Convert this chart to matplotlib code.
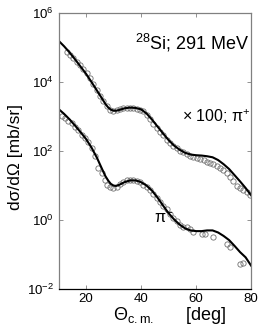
import numpy as np
import matplotlib
matplotlib.use("Agg")
import matplotlib.pyplot as plt

plt.rcParams['font.family'] = ['Liberation Sans', 'DejaVu Sans']
plt.rcParams['mathtext.fontset'] = 'custom'
plt.rcParams['mathtext.rm'] = 'Liberation Sans'
plt.rcParams['mathtext.it'] = 'Liberation Sans:italic'
plt.rcParams['mathtext.bf'] = 'Liberation Sans:bold'

# theory curves (angle in deg, log10 of cross section)
th_curve = [10, 12, 14, 16, 18, 20, 22, 24, 26, 27, 28, 29, 30, 31, 32, 34, 36, 38,
            40, 42, 44, 46, 48, 50, 52, 54, 56, 58, 60, 62, 64, 66, 68, 70, 72, 74,
            76, 78, 80]
log_pip_curve = [5.20, 5.04, 4.86, 4.66, 4.45, 4.24, 4.00, 3.75, 3.50, 3.37, 3.27, 3.20,
                 3.17, 3.17, 3.19, 3.24, 3.26, 3.25, 3.21, 3.09, 2.91, 2.71, 2.51, 2.32,
                 2.16, 2.04, 1.95, 1.90, 1.88, 1.87, 1.85, 1.82, 1.74, 1.62, 1.48, 1.30,
                 1.12, 0.93, 0.72]
log_pim_curve = [3.22, 3.08, 2.92, 2.74, 2.55, 2.35, 2.10, 1.80, 1.45, 1.28, 1.15, 1.05,
                 1.00, 0.99, 1.02, 1.10, 1.15, 1.15, 1.10, 1.00, 0.85, 0.65, 0.42, 0.20,
                 0.02, -0.13, -0.24, -0.30, -0.32, -0.32, -0.30, -0.30, -0.36, -0.46,
                 -0.58, -0.75, -0.93, -1.08, -1.32]

# measured points, pi+ (x100)
th_pip = [13.0, 14.2, 15.4, 16.6, 17.8, 19.0, 20.2, 21.5, 22.7, 23.9, 25.1, 26.3, 27.5,
          28.7, 29.9, 31.2, 32.4, 33.6, 34.8, 36.0, 37.2, 38.4, 39.6, 40.8, 42.0, 43.3,
          44.5, 45.7, 46.9, 48.1, 49.3, 50.5, 51.7, 52.9, 54.2, 55.4, 56.6, 57.8, 59.0,
          60.3, 61.5, 62.7, 63.9, 65.1, 66.3, 67.5, 68.7, 69.9, 71.1, 72.3, 73.5, 74.8,
          76.0, 77.2, 78.4, 79.6]
log_pip = [4.88, 4.78, 4.69, 4.59, 4.49, 4.38, 4.25, 4.12, 3.93, 3.77, 3.60, 3.44, 3.30,
           3.20, 3.17, 3.20, 3.22, 3.24, 3.25, 3.25, 3.24, 3.23, 3.20, 3.15, 3.05, 2.92,
           2.78, 2.66, 2.56, 2.47, 2.33, 2.22, 2.14, 2.09, 2.01, 1.96, 1.92, 1.86, 1.82,
           1.79, 1.76, 1.73, 1.69, 1.66, 1.62, 1.58, 1.50, 1.45, 1.36, 1.26, 1.12, 0.98,
           0.93, 0.88, 0.82, 0.73]

# measured points, pi-
th_pim = [11.2, 12.4, 13.6, 14.8, 16.0, 17.2, 18.4, 19.6, 20.8, 22.0, 23.3, 24.5, 25.7,
          26.9, 27.5, 28.7, 29.9, 31.2, 32.4, 33.6, 34.8, 36.0, 37.2, 38.4, 39.6, 40.8,
          42.0, 43.3, 44.5, 45.7, 46.9, 48.1, 49.3, 50.5, 51.7, 52.9, 54.2, 55.4, 56.6,
          57.8, 59.0, 62.1, 63.3, 66.3, 71.2, 72.4, 76.0, 77.2]
log_pim = [3.02, 2.97, 2.88, 2.80, 2.70, 2.60, 2.48, 2.38, 2.27, 2.08, 1.85, 1.50, 1.35,
           1.15, 1.02, 0.96, 0.92, 0.96, 1.05, 1.11, 1.15, 1.16, 1.16, 1.14, 1.10, 1.02,
           0.95, 0.87, 0.76, 0.64, 0.53, 0.42, 0.32, 0.19, 0.06, -0.02, -0.14, -0.19,
           -0.21, -0.26, -0.34, -0.39, -0.39, -0.48, -0.68, -0.77, -1.28, -1.24]

fig = plt.figure(figsize=(2.66, 3.27), dpi=100)
ax = fig.add_axes([0.22, 0.116, 0.724, 0.844])

mk = dict(ls='none', marker='o', ms=3.8, mfc='none', mec='#707070', mew=0.6)
ax.plot(th_pip, 10.0 ** np.array(log_pip), **mk)
ax.plot(th_pim, 10.0 ** np.array(log_pim), **mk)
ax.plot(th_curve, 10.0 ** np.array(log_pip_curve), color='black', lw=1.5)
ax.plot(th_curve, 10.0 ** np.array(log_pim_curve), color='black', lw=1.5)

ax.set_yscale('log')
ax.set_xlim(10, 80)
ax.set_ylim(1e-2, 1e6)
ax.set_xticks([20, 40, 60, 80])
ax.set_yticks([1e-2, 1e0, 1e2, 1e4, 1e6])
ax.yaxis.set_minor_locator(matplotlib.ticker.NullLocator())
ax.tick_params(direction='in', length=3, width=0.6, top=True, right=True,
               labelsize=9.5, color='#808080')
ax.tick_params(axis='x', pad=3)

for s in ['left', 'top', 'right']:
    ax.spines[s].set_color('#808080')
    ax.spines[s].set_linewidth(0.9)
ax.spines['bottom'].set_color('black')
ax.spines['bottom'].set_linewidth(0.9)

ax.set_xlabel('Θ$_{\\mathrm{c.m.}}$      [deg]', fontsize=13)
ax.xaxis.set_label_coords(0.58, -0.056)
ax.set_ylabel('dσ/dΩ [mb/sr]', fontsize=12.5)
ax.yaxis.set_label_coords(-0.185, 0.478)

ax.text(0.995, 0.891, '$^{28}$Si; 291 MeV', transform=ax.transAxes,
        fontsize=13, ha='right', va='center')
ax.text(0.995, 0.623, '× 100; π$^{+}$', transform=ax.transAxes,
        fontsize=11.5, ha='right', va='center')
ax.text(0.495, 0.257, 'π$^{-}$', transform=ax.transAxes,
        fontsize=11.5, ha='left', va='center')

fig.savefig('out.png', dpi=100)
